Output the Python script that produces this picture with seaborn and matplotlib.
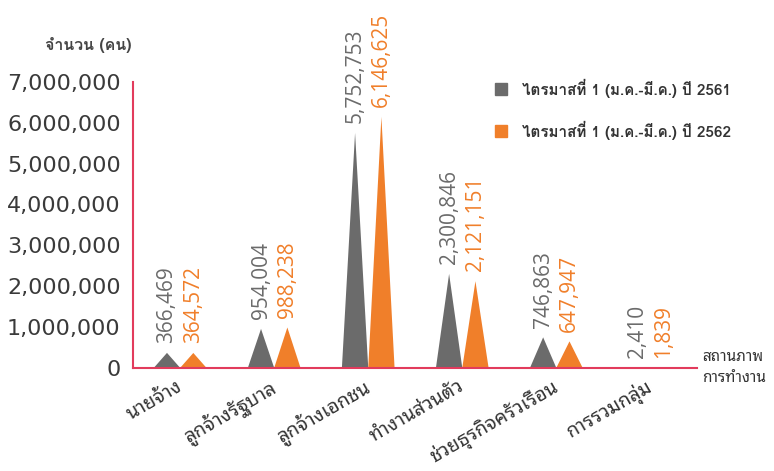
import matplotlib
matplotlib.use("Agg")
import matplotlib.pyplot as plt
from matplotlib.patches import Polygon
from matplotlib.lines import Line2D
import numpy as np
import pandas as pd
import seaborn as sns

# ข้อมูลจากภาพ
categories = ["นายจ้าง", "ลูกจ้างรัฐบาล", "ลูกจ้างเอกชน", "ทำงานส่วนตัว",
              "ช่วยธุรกิจครัวเรือน", "การรวมกลุ่ม"]
series_names = ["ไตรมาสที่ 1 (ม.ค.-มี.ค.) ปี 2561", "ไตรมาสที่ 1 (ม.ค.-มี.ค.) ปี 2562"]
values_2561 = [366469, 954004, 5752753, 2300846, 746863, 2410]
values_2562 = [364572, 988238, 6146625, 2121151, 647947, 1839]
yticks = [0, 1000000, 2000000, 3000000, 4000000, 5000000, 6000000, 7000000]

GRAY = "#6b6b6b"
ORANGE = "#f07f2a"
RED = "#e23b5c"
THAI = ["Noto Sans Thai Looped", "Loma", "DejaVu Sans"]
THAI_BOLD = ["Loma", "Noto Sans Thai Looped", "DejaVu Sans"]

df = pd.DataFrame({
    "สถานภาพ": categories * 2,
    "ปี": [series_names[0]] * len(categories) + [series_names[1]] * len(categories),
    "จำนวน": values_2561 + values_2562,
})

sns.set_style("white")
plt.rcParams["font.family"] = ["DejaVu Sans"]

fig = plt.figure(figsize=(7.74, 4.71), dpi=100)
ax = fig.add_axes([0.172, 0.219, 0.729, 0.607])

sns.barplot(data=df, x="สถานภาพ", y="จำนวน", hue="ปี",
            palette=[GRAY, ORANGE], width=0.56, gap=0, ax=ax,
            legend=False, errorbar=None)

# เปลี่ยนแท่งเป็นสามเหลี่ยม
for container, color in zip(ax.containers, [GRAY, ORANGE]):
    for bar in container:
        x0 = bar.get_x()
        w = bar.get_width()
        h = bar.get_height()
        bar.set_visible(False)
        ax.add_patch(Polygon([[x0, 0], [x0 + w / 2, h], [x0 + w, 0]],
                             closed=True, facecolor=color, edgecolor="none"))
        ax.annotate(f"{int(h):,}", xy=(x0 + w / 2, h), xytext=(0, 7),
                    textcoords="offset points", rotation=90,
                    ha="center", va="bottom", color=color,
                    fontsize=15, family=["Open Sans", "DejaVu Sans"])

ax.set_ylim(0, 7000000)
ax.set_xlim(-0.5, len(categories) - 0.5)
ax.set_yticks(yticks)
ax.set_yticklabels([f"{v:,}" for v in yticks], fontsize=16, color="#3a3a3a")

# ป้ายแกน x
ax.set_xticks(np.arange(len(categories)) - 0.05)
ax.set_xticklabels(categories, rotation=30, ha="right", va="top",
                   rotation_mode="anchor", fontsize=14, color="#333333", family=THAI)
ax.tick_params(axis="x", which="major", length=0, pad=6)
ax.set_xticks(np.arange(-0.5, len(categories) + 0.5, 1), minor=True)
ax.tick_params(axis="x", which="minor", length=8, width=1.5, color=RED, direction="out")
ax.tick_params(axis="y", length=6, width=1.5, color=RED, direction="out", pad=3)

for s in ["top", "right"]:
    ax.spines[s].set_visible(False)
for s in ["left", "bottom"]:
    ax.spines[s].set_color(RED)
    ax.spines[s].set_linewidth(1.5)

ax.set_xlabel("")
ax.set_ylabel("")
ax.text(-0.156, 1.13, "จำนวน (คน)", transform=ax.transAxes, ha="left", va="center",
        fontsize=11.5, fontweight="bold", color="#444444", family=THAI_BOLD)
ax.text(1.008, 0.0, "สถานภาพ\nการทำงาน", transform=ax.transAxes, ha="left", va="center",
        fontsize=11, color="#333333", family=THAI, linespacing=1.5)

# คำอธิบายสัญลักษณ์
handles = [Line2D([], [], marker="s", linestyle="none", markersize=8,
                  markerfacecolor=c, markeredgecolor=c) for c in [GRAY, ORANGE]]
leg = ax.legend(handles, series_names, loc="upper left", bbox_to_anchor=(0.60, 1.06),
                frameon=False, labelspacing=1.5, handletextpad=0.4,
                prop={"family": THAI_BOLD, "size": 11, "weight": "bold"})
for t in leg.get_texts():
    t.set_color("#333333")

fig.savefig("out.png", dpi=100)
